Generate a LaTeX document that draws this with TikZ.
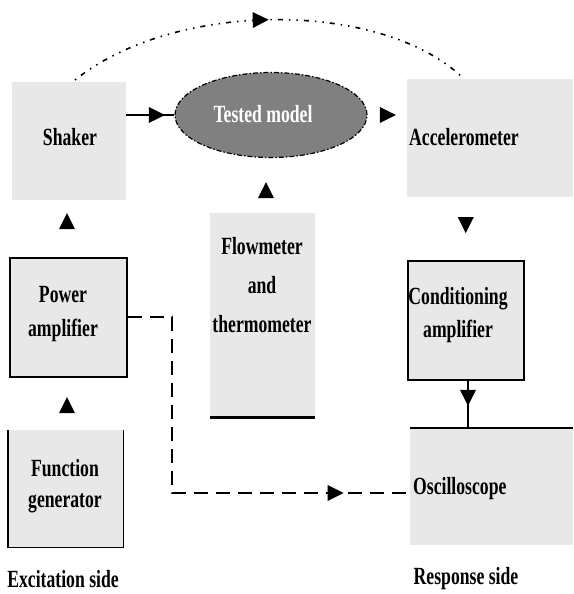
\documentclass[tikz,border=0pt]{standalone}
\usepackage{fontspec}
\setmainfont{Liberation Serif}
\usetikzlibrary{shapes.geometric,decorations.markings,calc}
\definecolor{boxgray}{HTML}{E8E8E8}
\definecolor{ellgray}{HTML}{808080}
\begin{document}
\begin{tikzpicture}[x=1pt,y=-1pt,
  boxbase/.style={fill=boxgray, draw=none, inner sep=0, anchor=north west},
  framed/.style={boxbase, draw=black, line width=1.5pt},
  txt/.style={font=\bfseries\fontsize{19}{26}\selectfont, xscale=0.93, yscale=1.3, align=center, inner sep=0},
  tri at/.style={postaction={decorate}, decoration={markings,
     mark=at position #1 with {\fill[black] (-16,-8) -- (0,0) -- (-16,8) -- cycle;}}},
  conn/.style={line width=1.4pt},
  dashconn/.style={line width=1.6pt, dash pattern=on 14pt off 8pt},
  dotconn/.style={line width=1.6pt, dash pattern=on 1.5pt off 6pt on 5pt off 6pt on 1.5pt off 6pt}
]
\useasboundingbox (0,0) rectangle (573,594);
% boxes
\node[boxbase, minimum width=114, minimum height=118] (sh) at (12,82) {};
\node[boxbase, minimum width=166, minimum height=118] (acc) at (407,79) {};
\node[framed, minimum width=117, minimum height=119] (pa) at (9,257) {};
\node[framed, minimum width=116, minimum height=119] (cond) at (407,260) {};
\node[boxbase, minimum width=115, minimum height=117] (fg) at (8,430) {};
\node[boxbase, minimum width=105, minimum height=204] (fm) at (210,213) {};
\node[boxbase, minimum width=163, minimum height=117] (osc) at (410,428) {};
\node[ellipse, fill=ellgray, draw=black, line width=1.2pt,
      dash pattern=on 5pt off 2pt on 1.5pt off 2pt,
      minimum width=192, minimum height=85, inner sep=0] (tm) at (271,115) {};
% partial borders
\draw[line width=1.5pt] (fg.north west) -- (fg.south west) -- (fg.south east) -- (fg.north east);
\draw[line width=2.2pt] (fm.south west) -- (fm.south east);
\draw[line width=2.2pt] (osc.north west) -- (osc.north east);
% texts
\node[txt] (tsh) at (70,137) {Shaker};
\node[txt, text=white] (ttm) at (263,114) {Tested model};
\node[txt] (tacc) at (464,137) {Accelerometer};
\node[txt] (tpa) at (63,314) {Power\\amplifier};
\node[txt, font=\bfseries\fontsize{19}{30}\selectfont] (tfm) at (262,285) {Flowmeter\\and\\thermometer};
\node[txt] (tcond) at (458,315) {Conditioning\\amplifier};
\node[txt, font=\bfseries\fontsize{19}{24}\selectfont] (tfg) at (65,486) {Function\\generator};
\node[txt, anchor=west] (tosc) at (413,489) {Oscilloscope};
\node[txt] (lex) at (63,579) {Excitation side};
\node[txt] (lre) at (466,579) {Response side};
% connectors
\draw[conn, tri at=0.8] (sh.east |- tm.west) -- (tm.west);
\path[tri at=0.72] (tm.east) -- (acc.west |- tm.east);
\path[tri at=0.55] (fm.north -| 266,0) -- (266,157);
\path[tri at=0.77] (67,257) -- (67,200);
\path[tri at=0.61] (67,430) -- (67,376);
\path[tri at=0.57] (cond.north |- acc.south) -- (cond.north);
\draw[conn, tri at=0.55] (468,379) -- (468,428);
\coordinate (d1) at (172,317);
\coordinate (d2) at (172,493);
\draw[dashconn, tri at=0.855] (pa.east |- d1) -- (d1) -- (d2) -- (osc.west |- d2);
\coordinate (arcend) at (462,77);
\draw[dotconn, tri at=0.5] (75,80) .. controls (175,0) and (380,0) .. (arcend);
\end{tikzpicture}
\end{document}
